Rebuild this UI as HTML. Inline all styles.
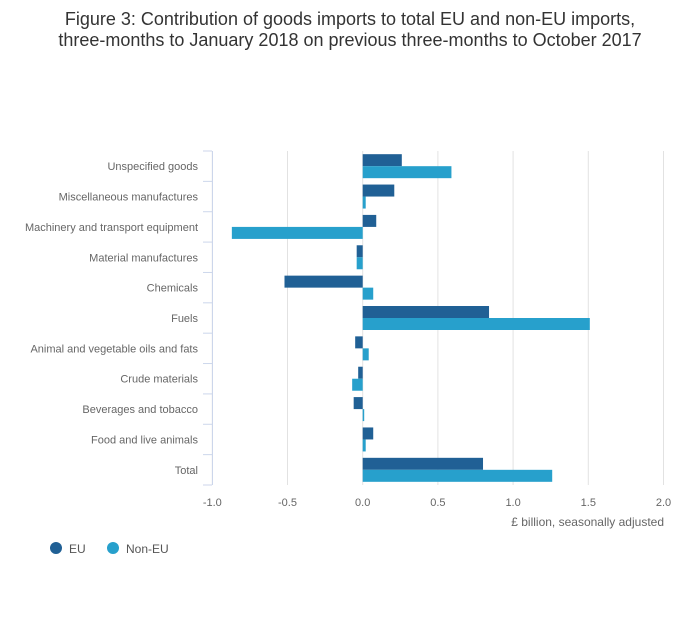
<!DOCTYPE html>
<html><head><meta charset="utf-8"><style>
body{margin:0;background:#fff;font-family:"Liberation Sans",sans-serif}
</style></head><body>
<svg width="700" height="635" xmlns="http://www.w3.org/2000/svg" font-family="Liberation Sans, sans-serif">
<text x="350" y="25" text-anchor="middle" font-size="18" fill="#333">Figure 3: Contribution of goods imports to total EU and non-EU imports,</text>
<text x="350" y="46" text-anchor="middle" font-size="18" fill="#333">three-months to January 2018 on previous three-months to October 2017</text>
<g id="plot"></g>
<text x="664" y="526" text-anchor="end" font-size="12" fill="#666">£ billion, seasonally adjusted</text>
<g><circle cx="56" cy="548" r="6" fill="#206095"/><text x="69" y="553" font-size="12" fill="#555">EU</text></g>
<g><circle cx="113" cy="548" r="6" fill="#27a0cc"/><text x="126" y="553" font-size="12" fill="#555">Non-EU</text></g>
</svg>
<script>
const categories=["Unspecified goods","Miscellaneous manufactures","Machinery and transport equipment","Material manufactures","Chemicals","Fuels","Animal and vegetable oils and fats","Crude materials","Beverages and tobacco","Food and live animals","Total"];
const euValues=[0.26,0.21,0.09,-0.04,-0.52,0.84,-0.05,-0.03,-0.06,0.07,0.80];
const nonEuValues=[0.59,0.02,-0.87,-0.04,0.07,1.51,0.04,-0.07,0.01,0.02,1.26];
const xTicks=[-1.0,-0.5,0.0,0.5,1.0,1.5,2.0];
const NS="http://www.w3.org/2000/svg";
const plotG=document.getElementById('plot');
const plotTop=151,plotBottom=485,band=(plotBottom-plotTop)/categories.length;
const xs=v=>362.7+v*150.4;
function mk(t,a){const e=document.createElementNS(NS,t);for(const k in a)e.setAttribute(k,a[k]);plotG.appendChild(e);return e;}
xTicks.forEach(v=>{
 const l=mk('line',{x1:xs(v),x2:xs(v),y1:plotTop,y2:plotBottom,stroke:'#e2e2e2'});
 
 
 const t=mk('text',{x:xs(v),y:506,'text-anchor':'middle','font-size':11,fill:'#666'});
 t.textContent=v.toFixed(1);
 
 
});
const ax=mk('line',{x1:212.5,x2:212.5,y1:plotTop,y2:plotBottom,stroke:'#ccd6eb'});


for(let i=0;i<=categories.length;i++){
 const tk=mk('line',{x1:203,x2:212,y1:plotTop+i*band,y2:plotTop+i*band,stroke:'#ccd6eb'});
 
 
}
categories.forEach((c,i)=>{
 const cy=plotTop+band*(i+0.5);
 const t=mk('text',{x:198,y:cy+4,'text-anchor':'end','font-size':11,fill:'#666'});
 t.textContent=c;
 
 
 [[euValues[i],'#206095',cy-12,'bar-eu'],[nonEuValues[i],'#27a0cc',cy,'bar-non-eu']].forEach(([v,col,y,n])=>{
  const r=mk('rect',{x:Math.min(xs(0),xs(v)),y:y,width:Math.abs(xs(v)-xs(0)),height:12,fill:col});
  
  
 });
});
</script>
</body></html>
